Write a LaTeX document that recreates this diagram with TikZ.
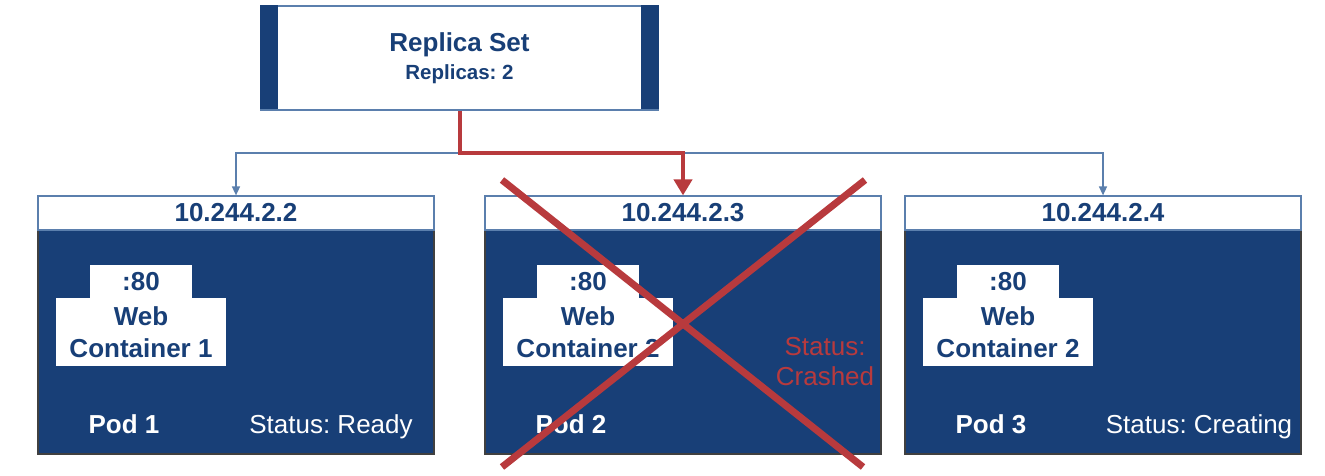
\documentclass[tikz,border=0pt]{standalone}
\usepackage{fontspec}
\setmainfont{Liberation Sans}
\frenchspacing
\usetikzlibrary{arrows.meta}

\definecolor{podblue}{HTML}{183F77}
\definecolor{edgeblue}{HTML}{5B7FAD}
\definecolor{crashred}{HTML}{B83A3D}

\tikzstyle{rsbox} = [rectangle, draw=edgeblue, fill=white, line width=1.5pt, minimum width=397pt, minimum height=104pt, inner sep=0pt, align=center, text=podblue, font=\fontsize{26}{28}\selectfont\bfseries]
\tikzstyle{podbody} = [rectangle, draw=black!75, fill=podblue, line width=1.2pt, minimum width=396pt, minimum height=258pt, inner sep=0pt]
\tikzstyle{iphead} = [rectangle, draw=edgeblue, fill=white, line width=1.2pt, minimum width=396pt, minimum height=34pt, inner sep=0pt, text=podblue, font=\fontsize{26}{30}\selectfont\bfseries]
\tikzstyle{portbox} = [rectangle, fill=white, minimum width=102pt, minimum height=33pt, inner sep=0pt, text=podblue, font=\fontsize{26}{30}\selectfont\bfseries]
\tikzstyle{contbox} = [rectangle, fill=white, minimum width=170pt, minimum height=68pt, inner sep=0pt, align=center, text=podblue, font=\fontsize{26}{32}\selectfont\bfseries]
\tikzstyle{podname} = [text=white, font=\fontsize{26}{30}\selectfont\bfseries]
\tikzstyle{podstatus} = [text=white, font=\fontsize{26}{30}\selectfont]

\begin{document}
\begin{tikzpicture}[x=1pt, y=-1pt]
        \tikzset{bluelink/.style={draw=edgeblue, line width=1.5pt, -{Triangle[length=9pt, width=8pt]}},
                 redlink/.style={draw=crashred, line width=4pt, -{Triangle[length=16pt, width=18pt]}},
                 crossline/.style={draw=crashred, line width=7pt}}
        \useasboundingbox (0,0) rectangle (1325,476);

        % Replica set on top
        \node (rs) at (459.5,58) [rsbox] {Replica Set\\{\fontsize{20.5}{24}\selectfont Replicas: 2}};
        \fill[podblue] (rs.north west) rectangle ++(18,104);
        \fill[podblue] (rs.north east) rectangle ++(-18,104);

        % Pod 1
        \node (pod1) at (236,325) [podbody] {};
        \node (ip1) at (236,213) [iphead] {10.244.2.2};
        \node (port1) at (141,281.5) [portbox] {:80};
        \node (cont1) at (141,332) [contbox] {Web\\Container 1};
        \node (name1) at (124,424) [podname] {Pod 1};
        \node (state1) at (331,427) [podstatus] {Status: Ready};

        % Pod 2
        \node (pod2) at (683,325) [podbody] {};
        \node (ip2) at (683,213) [iphead] {10.244.2.3};
        \node (port2) at (588,281.5) [portbox] {:80};
        \node (cont2) at (588,332) [contbox] {Web\\Container 2};
        \node (name2) at (571,424) [podname] {Pod 2};
        \node (state2) at (825,362) [podstatus, text=crashred, align=center] {Status:\\Crashed};

        % Pod 3
        \node (pod3) at (1103,325) [podbody] {};
        \node (ip3) at (1103,213) [iphead] {10.244.2.4};
        \node (port3) at (1008,281.5) [portbox] {:80};
        \node (cont3) at (1008,332) [contbox] {Web\\Container 2};
        \node (name3) at (991,424) [podname] {Pod 3};
        \node (state3) at (1199,427) [podstatus] {Status: Creating};

        % links from the replica set
        \coordinate (split) at (rs.south |- 0,153);
        \draw[bluelink] (split) -| (ip1.north);
        \draw[bluelink] (split) -| (ip3.north);
        \draw[redlink] (rs.south) -- (split) -| (ip2.north);

        % crashed pod is crossed out
        \draw[crossline] (502,180) -- (863,467);
        \draw[crossline] (865,180) -- (502,467);
\end{tikzpicture}
\end{document}
